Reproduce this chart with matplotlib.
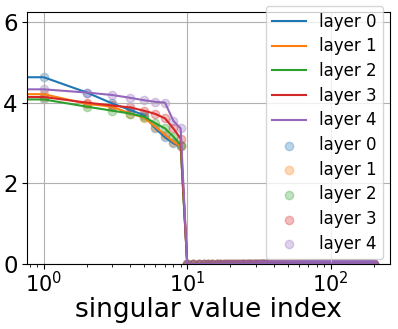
import numpy as np
import matplotlib
matplotlib.use("Agg")
import matplotlib.pyplot as plt

# singular values per layer; index 0 sits at x=0 and is clipped off the log axis
n_values = 200
layer_names = ["layer 0", "layer 1", "layer 2", "layer 3", "layer 4"]
top_values = {
    "layer 0": [5.9, 4.63, 4.25, 3.98, 3.82, 3.69, 3.36, 3.14, 2.99, 2.92],
    "layer 1": [5.9, 4.21, 3.97, 3.90, 3.73, 3.63, 3.40, 3.20, 3.03, 2.92],
    "layer 2": [5.9, 4.08, 3.90, 3.80, 3.73, 3.65, 3.49, 3.36, 3.16, 2.95],
    "layer 3": [5.9, 4.14, 4.00, 3.93, 3.88, 3.80, 3.72, 3.61, 3.36, 3.11],
    "layer 4": [5.9, 4.33, 4.25, 4.19, 4.12, 4.06, 4.02, 4.00, 3.55, 3.36],
}
colors = ["#1f77b4", "#ff7f0e", "#2ca02c", "#d62728", "#9467bd"]

index = np.arange(n_values)


def full_spectrum(vals):
    s = np.zeros(n_values)
    s[:len(vals)] = vals
    return s


fig = plt.figure(figsize=(3.98, 3.29), dpi=100)
ax = fig.add_axes([0.0686, 0.1976, 0.9114, 0.765])

for name, c in zip(layer_names, colors):
    ax.plot(index, full_spectrum(top_values[name]), color=c, label=name)
for name, c in zip(layer_names, colors):
    ax.scatter(index, full_spectrum(top_values[name]), color=c, alpha=0.3, label=name)

ax.set_xscale("log")
ax.set_ylim(0, 6.24)
ax.set_yticks([0, 2, 4, 6])
ax.grid(True)
ax.tick_params(axis="x", labelsize=15, pad=1.5)
ax.tick_params(axis="y", labelsize=16.5)
ax.set_xlabel("singular value index", fontsize=19)
ax.xaxis.set_label_coords(0.5, -0.13)
ax.legend(loc="upper right", bbox_to_anchor=(0.981, 1.025), borderaxespad=0,
          fontsize=12, labelspacing=0.4)

fig.savefig("out.png", dpi=100)
